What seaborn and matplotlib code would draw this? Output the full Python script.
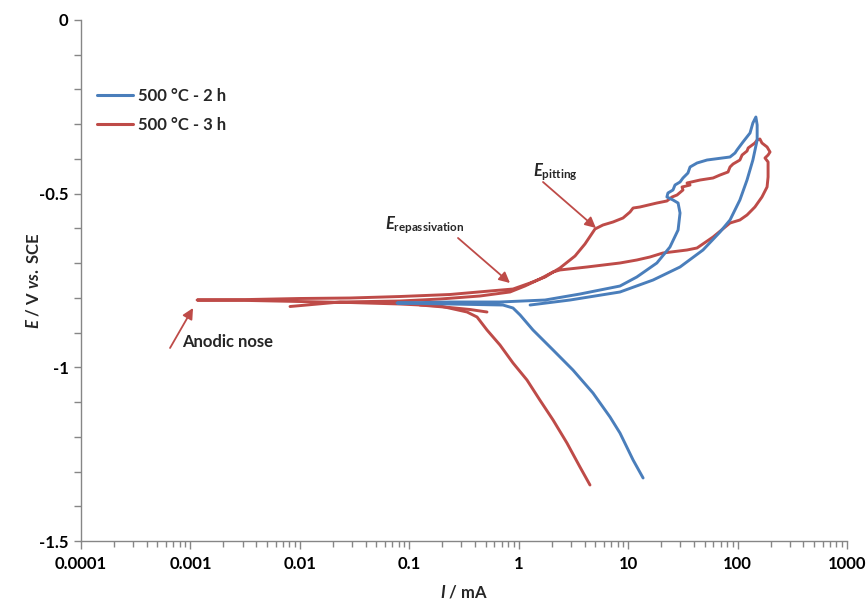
import numpy as np
import pandas as pd
import matplotlib
matplotlib.use("Agg")
import matplotlib.pyplot as plt
import seaborn as sns
from matplotlib.lines import Line2D
from matplotlib.ticker import LogLocator, MultipleLocator, NullFormatter

# ---------------- data ----------------
series_labels = ["500 °C - 2 h", "500 °C - 3 h"]

blue_I = [13.7, 11.1, 8.42, 6.83, 4.77, 3.13, 2.06, 1.35, 1.03, 0.887, 0.718, 0.235,
          0.0772, 0.235, 0.674,
          1.74, 3.63, 8.42, 12.0, 18.3, 24.1, 28.6, 29.8, 28.6, 25.7, 22.6, 23.1,
          25.7, 26.8, 29.8, 31.7, 35.2, 36.8, 42.6, 52.6, 85.3, 94.8, 98.8, 112,
          130, 138, 147, 151, 151, 138, 122, 105, 85.3, 69.1, 48.3, 29.8, 16.9,
          8.42, 2.94, 1.27]
blue_E = [-1.3186, -1.2668, -1.1891, -1.1430, -1.0739, -1.0077, -0.9501, -0.8925,
          -0.8493, -0.8292, -0.8206, -0.8177,
          -0.8148, -0.8119, -0.8119, -0.8062, -0.7889, -0.7659, -0.7399, -0.6996,
          -0.6536, -0.6046, -0.5557, -0.5269, -0.5182, -0.5096, -0.4981, -0.4894,
          -0.4751, -0.4664, -0.4549, -0.4405, -0.4232, -0.4117, -0.4031, -0.3944,
          -0.3829, -0.3743, -0.3513, -0.3253, -0.2965, -0.2793, -0.3023, -0.3455,
          -0.4031, -0.4607, -0.5182, -0.5758, -0.6104, -0.6622, -0.7111, -0.7486,
          -0.7831, -0.8062, -0.8206]

red_I = [4.48, 3.63, 2.76, 2.06, 1.56, 1.19, 0.887, 0.674, 0.513, 0.416, 0.337,
         0.191, 0.0822, 0.0287, 0.0100,
         0.00350, 0.00115, 0.00350, 0.0100, 0.0287, 0.0822, 0.235, 0.546, 0.887,
         1.27, 1.74, 2.38, 3.27, 4.03, 4.98, 5.89, 7.27, 8.97, 10.4, 11.1, 12.8,
         18.3, 22.6, 25.2, 28.0, 31.7, 31.1, 36.8, 34.5, 45.4, 59.7, 69.1, 81.8,
         85.3, 90.9, 105, 110, 122, 125, 144, 151, 160, 167, 186, 198, 190, 178,
         190, 190, 190, 186, 167, 144, 122, 105, 85.3, 59.7, 42.6, 34.5, 20.8,
         15.8, 12.0, 8.42, 4.21, 2.38, 2.06, 1.56, 1.14, 0.832, 0.443, 0.191,
         0.0822, 0.0233, 0.00813]
red_E = [-1.3388, -1.2870, -1.2179, -1.1516, -1.0941, -1.0365, -0.9875, -0.9357,
         -0.8925, -0.8551, -0.8407, -0.8234,
         -0.8177, -0.8134, -0.8105, -0.8076, -0.8062, -0.8047, -0.8018, -0.8004,
         -0.7961, -0.7903, -0.7802, -0.7745, -0.7572, -0.7399, -0.7140, -0.6795,
         -0.6449, -0.6017, -0.5902, -0.5816, -0.5701, -0.5528, -0.5413, -0.5384,
         -0.5269, -0.5211, -0.5096, -0.5038, -0.4894, -0.4808, -0.4751, -0.4693,
         -0.4607, -0.4549, -0.4463, -0.4376, -0.4232, -0.4146, -0.4031, -0.3887,
         -0.3772, -0.3685, -0.3541, -0.3455, -0.3426, -0.3541, -0.3656, -0.3800,
         -0.3887, -0.3973, -0.4088, -0.4232, -0.4520, -0.4808, -0.5096, -0.5384,
         -0.5614, -0.5758, -0.5845, -0.6248, -0.6564, -0.6622, -0.6708, -0.6824,
         -0.6910, -0.6996, -0.7111, -0.7197, -0.7255, -0.7457, -0.7659, -0.7831,
         -0.7946, -0.8033, -0.8090, -0.8119, -0.8249]

red_tail_I = [0.125, 0.235, 0.359, 0.513]
red_tail_E = [-0.8206, -0.8278, -0.8335, -0.8407]

x_ticks = [0.0001, 0.001, 0.01, 0.1, 1, 10, 100, 1000]
x_tick_labels = ["0.0001", "0.001", "0.01", "0.1", "1", "10", "100", "1000"]
y_ticks = [0, -0.5, -1, -1.5]
y_tick_labels = ["0", "-0.5", "-1", "-1.5"]

# ---------------- styling ----------------
BLUE = "#4A7EBB"
RED = "#BE4B48"
GREY = "#868686"

sns.set_theme(style="white")
plt.rcParams["font.family"] = ["Lato", "DejaVu Sans"]
plt.rcParams["font.weight"] = "bold"
plt.rcParams["mathtext.fontset"] = "custom"
plt.rcParams["mathtext.it"] = "Lato:italic:bold"
plt.rcParams["mathtext.rm"] = "Lato"
plt.rcParams["mathtext.bf"] = "Lato:bold"

blue_df = pd.DataFrame({"I": blue_I, "E": blue_E, "seg": 0})
red_df = pd.concat([
    pd.DataFrame({"I": red_I, "E": red_E, "seg": 0}),
    pd.DataFrame({"I": red_tail_I, "E": red_tail_E, "seg": 1}),
], ignore_index=True)

fig = plt.figure(figsize=(8.67, 6.01), dpi=100)
ax = fig.add_axes([81 / 867, 1 - 541 / 601, (847 - 81) / 867, (541 - 20) / 601])
ax.set_xscale("log")

sns.lineplot(data=red_df, x="I", y="E", units="seg", estimator=None, sort=False,
             color=RED, linewidth=2.1, ax=ax, legend=False)
sns.lineplot(data=blue_df, x="I", y="E", units="seg", estimator=None, sort=False,
             color=BLUE, linewidth=2.1, ax=ax, legend=False)

ax.set_xlim(1e-4, 1e3)
ax.set_ylim(-1.5, 0)

ax.set_xticks(x_ticks)
ax.set_xticklabels(x_tick_labels)
ax.xaxis.set_minor_locator(LogLocator(base=10, subs=np.arange(2, 10)))
ax.xaxis.set_minor_formatter(NullFormatter())
ax.set_yticks(y_ticks)
ax.set_yticklabels(y_tick_labels)
ax.yaxis.set_minor_locator(MultipleLocator(0.1))

for s in ["top", "right"]:
    ax.spines[s].set_visible(False)
for s in ["left", "bottom"]:
    ax.spines[s].set_color(GREY)
    ax.spines[s].set_linewidth(1.0)

ax.tick_params(axis="both", which="both", direction="out", color=GREY, width=1.0,
               labelsize=12, labelcolor="black")
ax.tick_params(axis="x", which="major", length=6, pad=5, bottom=True)
ax.tick_params(axis="x", which="minor", length=4, bottom=True)
ax.tick_params(axis="y", which="both", length=5, pad=4, left=True)
for lab in ax.get_xticklabels() + ax.get_yticklabels():
    lab.set_fontweight("bold")

ax.set_xlabel(r"$I$ / mA", fontsize=12, fontweight="bold", labelpad=8)
ax.set_ylabel(r"$E$ / V $vs.$ SCE", fontsize=12, fontweight="bold", labelpad=-2)

# legend
handles = [Line2D([], [], color=BLUE, lw=2.2), Line2D([], [], color=RED, lw=2.2)]
fig.legend(handles, series_labels, loc="upper left",
           bbox_to_anchor=(97 / 867, 1 - 88 / 601), frameon=False, borderpad=0,
           borderaxespad=0, handlelength=2.15, handletextpad=0.3, labelspacing=0.75,
           prop=dict(family="Lato", weight="bold", size=12))

# annotations
arrow = dict(arrowstyle="-|>", color=RED, lw=1.3, mutation_scale=16, shrinkA=0, shrinkB=0)
ax.annotate("", xy=(0.001056, -0.8292), xytext=(0.000651, -0.9443), arrowprops=arrow)
ax.text(0.000838, -0.927, "Anodic nose", fontsize=12, fontweight="bold",
        ha="left", va="center")

ax.annotate("", xy=(0.832, -0.7572), xytext=(0.2787, -0.6276), arrowprops=arrow)
ax.text(0.060, -0.5902, r"$E_{\mathrm{repassivation}}$", fontsize=12,
        ha="left", va="center")

ax.annotate("", xy=(5.08, -0.5989), xytext=(1.667, -0.4664), arrowprops=arrow)
ax.text(1.35, -0.4376, r"$E_{\mathrm{pitting}}$", fontsize=12,
        ha="left", va="center")

fig.savefig("out.png", dpi=100)
